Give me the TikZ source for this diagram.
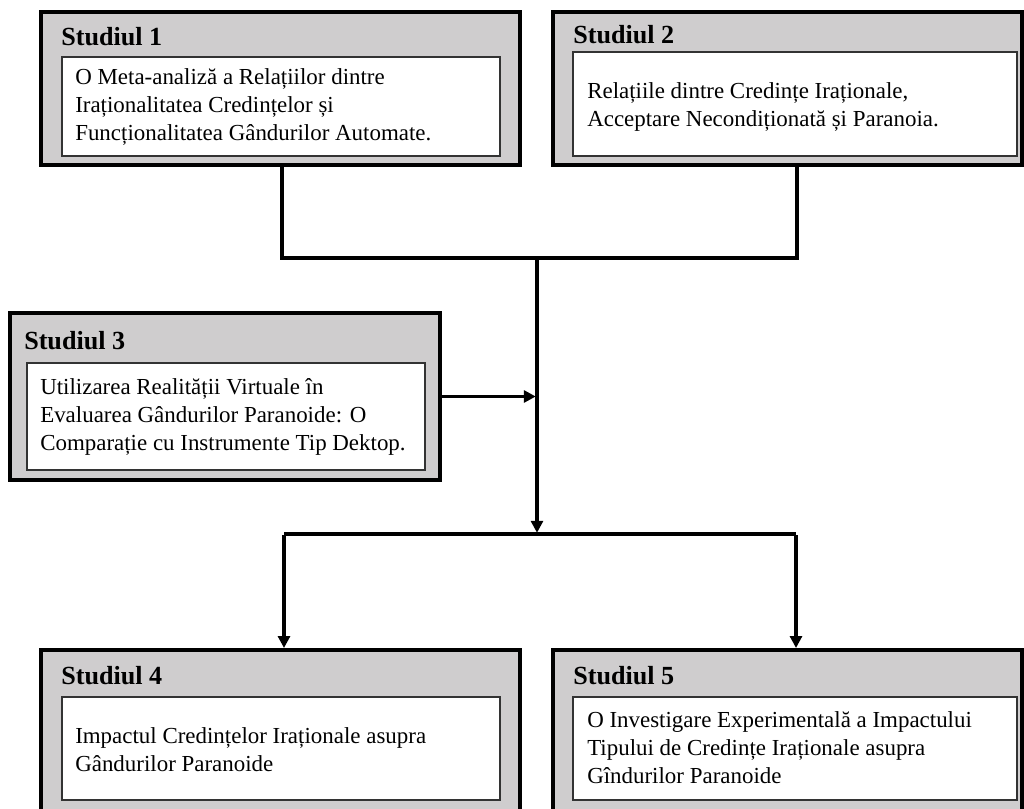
\documentclass[tikz,border=0pt]{standalone}
\usepackage{fontspec}
\setmainfont{Liberation Serif}
\usetikzlibrary{arrows.meta,fit,calc}
\definecolor{boxgray}{RGB}{207,205,206}
\begin{document}
\begin{tikzpicture}[x=0.75pt,y=-0.75pt,
  outerbox/.style={draw=black,line width=3pt,fill=boxgray,inner sep=0pt},
  innerbox/.style={draw=black!80,line width=0.9pt,fill=white,inner sep=0pt},
  ttl/.style={anchor=west,inner sep=0pt,font=\fontsize{19.6}{22}\selectfont\bfseries},
  txt/.style={anchor=west,inner sep=0pt,align=left,font=\fontsize{17.2}{21}\selectfont},
  conn/.style={line width=2.6pt},
  arr/.style={conn,-{Triangle[length=9pt,width=9pt]}}]
\useasboundingbox (0,0) rectangle (1024,809);
\clip (0,0) rectangle (1024,809);
% Study 1
\node[outerbox,fit={(41,12) (520,165)}] (s1) {};
\node[innerbox,fit={(62,57) (500,156)}] (i1) {};
\node[ttl] (t1) at (61,37) {Studiul 1};
\node[txt] (x1) at (75,107) {O Meta-analiză a Relațiilor dintre\\Iraționalitatea Credințelor și\\Funcționalitatea Gândurilor Automate.};
% Study 2
\node[outerbox,fit={(553,12) (1022,165)}] (s2) {};
\node[innerbox,fit={(573,52) (1017,156)}] (i2) {};
\node[ttl] (t2) at (573,35) {Studiul 2};
\node[txt] (x2) at (587,107) {Relațiile dintre Credințe Iraționale,\\Acceptare Necondiționată și Paranoia.};
% Study 3
\node[outerbox,fit={(10,313) (440,480)}] (s3) {};
\node[innerbox,fit={(27,363) (425,470)}] (i3) {};
\node[ttl] (t3) at (24,341) {Studiul 3};
\node[txt] (x3) at (40,417) {Utilizarea Realității Virtuale în\\Evaluarea Gândurilor Paranoide: O\\Comparație cu Instrumente Tip Dektop.};
% Study 4
\node[outerbox,fit={(41,650) (520,818)}] (s4) {};
\node[innerbox,fit={(62,697) (500,800)}] (i4) {};
\node[ttl] (t4) at (61,676) {Studiul 4};
\node[txt] (x4) at (75,750) {Impactul Credințelor Iraționale asupra\\Gândurilor Paranoide};
% Study 5
\node[outerbox,fit={(553,650) (1022,818)}] (s5) {};
\node[innerbox,fit={(573,697) (1017,800)}] (i5) {};
\node[ttl] (t5) at (573,676) {Studiul 5};
\node[txt] (x5) at (587,748) {O Investigare Experimentală a Impactului\\Tipului de Credințe Iraționale asupra\\Gîndurilor Paranoide};
% connectors
\coordinate (c1) at (282,0);
\coordinate (c2) at (797,0);
\coordinate (j1) at (537,258);
\coordinate (j2) at (537,534);
\coordinate (c4) at (284,0);
\coordinate (c5) at (796,0);
\draw[conn] (s1.south -| c1) |- (j1);
\draw[conn] (s2.south -| c2) |- (j1);
\draw[arr] (j1) -- ([yshift=0.9pt]j2);
\draw[arr] (s3.east) -- ([xshift=-0.9pt]s3.east -| j1);
\draw[conn] (j2 -| c4) -- (j2 -| c5);
\draw[arr] ([yshift=-0.9pt]j2 -| c4) -- (s4.north -| c4);
\draw[arr] ([yshift=-0.9pt]j2 -| c5) -- (s5.north -| c5);
\end{tikzpicture}
\end{document}
